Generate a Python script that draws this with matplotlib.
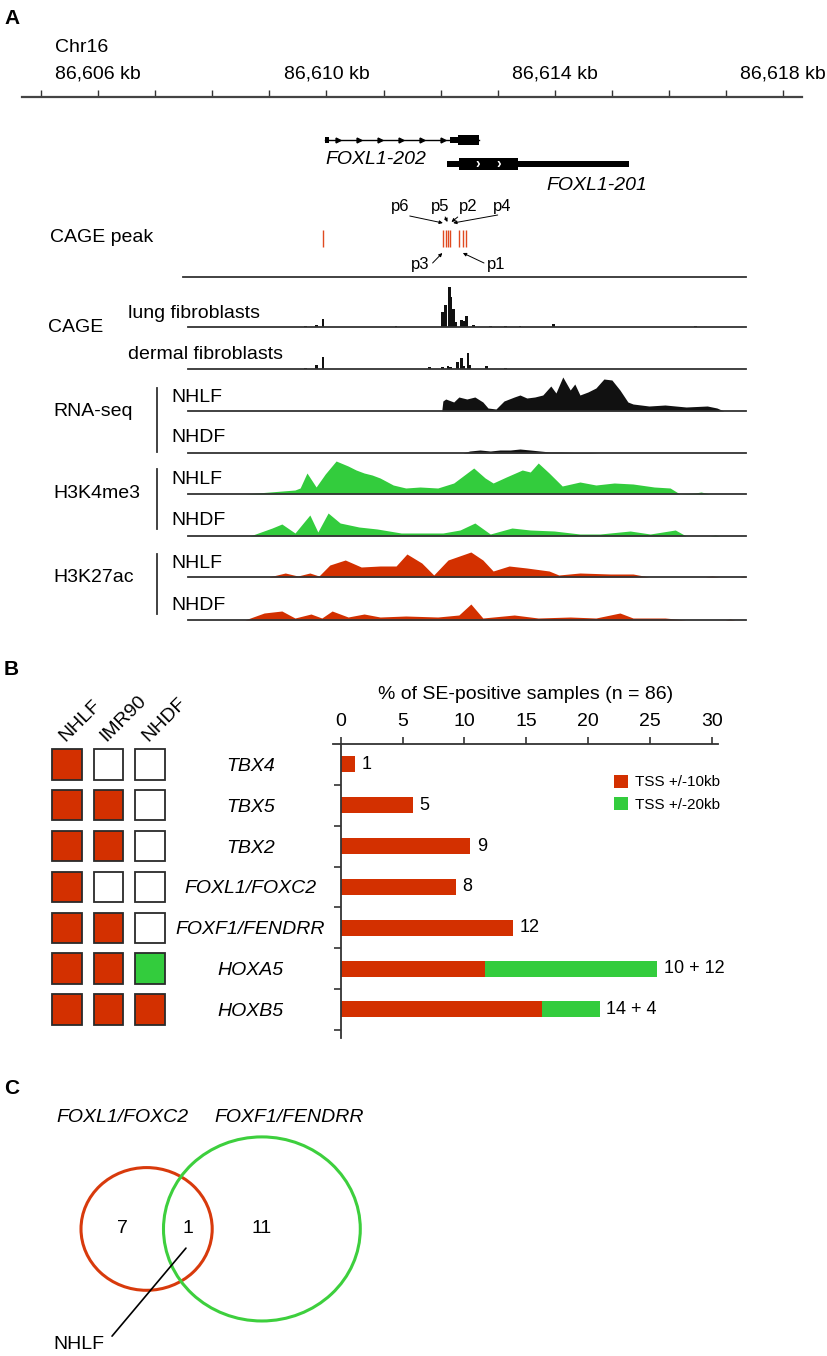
import numpy as np
import matplotlib.pyplot as plt
from matplotlib.patches import Rectangle, Circle
from matplotlib.lines import Line2D
from matplotlib.ticker import FuncFormatter, MultipleLocator

plt.rcParams['font.family'] = ['Liberation Sans', 'DejaVu Sans']

RED = '#d33000'
GREEN = '#33cc3d'
DARK = '#333333'

# ---------------- panel A : FOXL1 locus (kb on chr16) ----------------
chrom_label = 'Chr16'
ruler_major = [86606, 86610, 86614, 86618]

tx202_span = (86609.98, 86612.67)
tx202_first = (86609.98, 86610.05)
tx202_utr = (86612.16, 86612.30)
tx202_cds = (86612.30, 86612.67)
tx202_arrows = [86610.20, 86610.57, 86610.94, 86611.31, 86611.67, 86612.04]

tx201_span = (86612.11, 86615.30)
tx201_cds = (86612.32, 86613.36)
tx201_arrows = [86612.65, 86613.02]

cage_peaks = [86609.94, 86612.05, 86612.09, 86612.13, 86612.17, 86612.33, 86612.39, 86612.45]

cage_lung_pos = [86609.63, 86609.82, 86609.94, 86611.22, 86612.04, 86612.09, 86612.15, 86612.18,
                 86612.22, 86612.27, 86612.36, 86612.41, 86612.46, 86612.57, 86612.87, 86613.13,
                 86613.39, 86613.97, 86616.46]
cage_lung_val = [1, 2, 8, 1, 15, 22, 40, 30, 18, 5, 7, 6, 11, 2, 1, 1, 1, 3, 1]
cage_derm_pos = [86609.64, 86609.82, 86609.94, 86611.81, 86612.04, 86612.13, 86612.18, 86612.29,
                 86612.36, 86612.41, 86612.48, 86612.51, 86612.81, 86613.13]
cage_derm_val = [1, 4, 12, 2, 2, 3, 2, 7, 11, 3, 16, 4, 3, 1]

rna_nhlf_pos = [86612.02, 86612.04, 86612.09, 86612.23, 86612.32, 86612.46, 86612.60, 86612.74,
                86612.83, 86612.97, 86613.11, 86613.29, 86613.39, 86613.51, 86613.65, 86613.79,
                86613.93, 86614.02, 86614.14, 86614.27, 86614.35, 86614.44, 86614.58, 86614.72,
                86614.86, 86615.00, 86615.14, 86615.28, 86615.37, 86615.65, 86615.93, 86616.30,
                86616.67, 86616.84, 86616.96]
rna_nhlf_val = [0, 10, 12, 9, 14, 12, 14, 9, 3, 2, 10, 14, 16, 13, 14, 16, 25, 18, 34, 21,
                27, 16, 19, 23, 32, 31, 21, 9, 7, 5, 6, 4, 5, 3, 0]
rna_nhdf_pos = [86612.39, 86612.51, 86612.69, 86612.87, 86613.04, 86613.22, 86613.39, 86613.57,
                86613.74, 86613.92, 86614.09, 86614.35, 86614.62, 86614.79]
rna_nhdf_val = [0, 2, 3, 2, 3, 3, 4, 3, 2, 1, 1, 0.5, 0.5, 0]

h3k4_nhlf_pos = [86608.57, 86609.01, 86609.45, 86609.54, 86609.66, 86609.82, 86609.98, 86610.17,
                 86610.38, 86610.52, 86610.66, 86610.80, 86610.94, 86611.17, 86611.39, 86611.64,
                 86611.95, 86612.23, 86612.58, 86612.78, 86612.92, 86613.15, 86613.43, 86613.57,
                 86613.71, 86613.90, 86614.13, 86614.44, 86614.72, 86615.04, 86615.37, 86615.74,
                 86616.02, 86616.19, 86616.46, 86616.56, 86616.72]
h3k4_nhlf_val = [0, 2, 4, 6, 21, 7, 20, 33, 28, 24, 21, 19, 16, 9, 6, 7, 6, 11, 26, 16, 11,
                 17, 24, 22, 31, 21, 8, 12, 9, 11, 10, 7, 6, 0, 1, 2, 0]
h3k4_nhdf_pos = [86608.66, 86609.05, 86609.22, 86609.45, 86609.71, 86609.85, 86610.03, 86610.24,
                 86610.57, 86610.89, 86611.31, 86612.04, 86612.34, 86612.60, 86612.87, 86613.25,
                 86613.57, 86613.99, 86614.44, 86614.79, 86615.32, 86615.67, 86616.11, 86616.30,
                 86616.72, 86616.81, 86616.89]
h3k4_nhdf_val = [0, 8, 12, 3, 21, 4, 23, 13, 9, 7, 3, 3, 6, 13, 2, 8, 6, 5, 2, 2, 5, 2, 6, 0, 0, 1, 0]

h3k27_nhlf_pos = [86608.99, 86609.28, 86609.50, 86609.71, 86609.87, 86610.06, 86610.33, 86610.61,
                  86610.94, 86611.22, 86611.41, 86611.67, 86611.88, 86612.13, 86612.53, 86612.74,
                  86612.92, 86613.20, 86613.51, 86613.90, 86614.07, 86614.44, 86614.97, 86615.37,
                  86615.65, 86616.63, 86616.75, 86616.89, 86617.24, 86617.31, 86617.35]
h3k27_nhlf_val = [0, 4, 1, 4, 1, 12, 17, 10, 11, 11, 23, 14, 2, 17, 25, 17, 6, 11, 9, 6, 2,
                  4, 3, 3, 0, 0, 1, 0, 0, 1, 0]
h3k27_nhdf_pos = [86608.57, 86608.91, 86609.22, 86609.45, 86609.73, 86609.92, 86610.10, 86610.38,
                  86610.66, 86610.94, 86611.39, 86611.95, 86612.32, 86612.53, 86612.74, 86613.29,
                  86613.71, 86614.27, 86614.72, 86615.14, 86615.37, 86615.93, 86616.30, 86616.98,
                  86617.07, 86617.16]
h3k27_nhdf_val = [0, 7, 9, 2, 6, 2, 9, 3, 6, 3, 4, 3, 5, 16, 2, 5, 2, 3, 2, 7, 2, 2, 0, 0, 1, 0]

# ---------------- panel B ----------------
genes = ['TBX4', 'TBX5', 'TBX2', 'FOXL1/FOXC2', 'FOXF1/FENDRR', 'HOXA5', 'HOXB5']
cell_lines = ['NHLF', 'IMR90', 'NHDF']
# 1 = SE within TSS +/-10kb, 2 = within +/-20kb, 0 = none
se_status = [[1, 0, 0], [1, 1, 0], [1, 1, 0], [1, 0, 0], [1, 1, 0], [1, 1, 2], [1, 1, 1]]
se_10kb = [1, 5, 9, 8, 12, 10, 14]
se_20kb = [0, 0, 0, 0, 0, 12, 4]
n_samples = 86

# ---------------- panel C ----------------
venn_names = ['FOXL1/FOXC2', 'FOXF1/FENDRR']
only_foxl1, shared, only_foxf1 = 7, 1, 11
shared_line = 'NHLF'

W, H = 827, 1356
fig = plt.figure(figsize=(W / 100, H / 100), dpi=100)


def px_axes(x0, y0, x1, y1):
    ax = fig.add_axes([x0 / W, 1 - y1 / H, (x1 - x0) / W, (y1 - y0) / H])
    ax.patch.set_visible(False)
    return ax


def ftext(x, y, s, **kw):
    kw.setdefault('va', 'center')
    kw.setdefault('fontsize', 14)
    fig.text(x / W, 1 - y / H, s, **kw)


def vbar(x, y0, y1):
    fig.add_artist(Line2D([x / W, x / W], [1 - y0 / H, 1 - y1 / H], color=DARK, lw=1.3))


def baseline_only(ax):
    for s in ['top', 'left', 'right']:
        ax.spines[s].set_visible(False)
    ax.spines['bottom'].set_color(DARK)
    ax.spines['bottom'].set_linewidth(1.3)
    ax.set_xticks([])
    ax.set_yticks([])


ftext(4, 18, 'A', fontsize=15, fontweight='bold')
ftext(4, 669, 'B', fontsize=15, fontweight='bold')
ftext(4, 1088, 'C', fontsize=15, fontweight='bold')

# ruler
kb_to_px = 57.1
ruler_lim = (86606 + (22 - 98) / kb_to_px, 86606 + (802 - 98) / kb_to_px)
ax = px_axes(22, 96, 802, 97)
ax.set_xlim(*ruler_lim)
for s in ['top', 'left', 'right']:
    ax.spines[s].set_visible(False)
ax.spines['bottom'].set_color('#444444')
ax.spines['bottom'].set_linewidth(1.6)
ax.set_yticks([])
ax.set_xticks(ruler_major)
ax.xaxis.set_minor_locator(MultipleLocator(1))
ax.xaxis.set_major_formatter(FuncFormatter(lambda v, _: f'{v:,.0f} kb'))
ax.tick_params(axis='x', which='both', direction='in', length=5, width=1, color=DARK,
               top=False, bottom=True, labeltop=True, labelbottom=False, labelsize=14, pad=10)
ftext(55, 47, chrom_label)

# gene models
ax = px_axes(22, 128, 802, 176)
ax.set_xlim(*ruler_lim)
ax.set_ylim(1.5, -0.5)
ax.axis('off')
ax.plot(tx202_span, [0, 0], color='black', lw=1)
ax.add_patch(Rectangle((tx202_first[0], -0.14), tx202_first[1] - tx202_first[0], 0.28, color='black', lw=0))
ax.add_patch(Rectangle((tx202_utr[0], -0.13), tx202_utr[1] - tx202_utr[0], 0.26, color='black', lw=0))
ax.add_patch(Rectangle((tx202_cds[0], -0.22), tx202_cds[1] - tx202_cds[0], 0.44, color='black', lw=0))
ax.plot(tx202_arrows, [0] * len(tx202_arrows), ls='none', marker='>', ms=3.5, color='black')
ax.add_patch(Rectangle((tx201_span[0], 1 - 0.11), tx201_span[1] - tx201_span[0], 0.22, color='black', lw=0))
ax.add_patch(Rectangle((tx201_cds[0], 1 - 0.23), tx201_cds[1] - tx201_cds[0], 0.46, color='black', lw=0))
for p in tx201_arrows:
    ax.text(p, 1, '\u203a', color='white', fontsize=10, fontweight='bold', ha='center', va='center')
ax.text(tx202_span[0], 0.82, 'FOXL1-202', fontsize=14, style='italic', ha='left', va='center')
ax.text(86613.85, 1.88, 'FOXL1-201', fontsize=14, style='italic', ha='left', va='center', clip_on=False)

# CAGE peaks
ftext(50, 238, 'CAGE peak')
ax = px_axes(183, 195, 746, 277)
ax.set_xlim(86606 + (183 - 98) / kb_to_px, 86606 + (746 - 98) / kb_to_px)
ax.set_ylim(0, 82)
baseline_only(ax)
ax.vlines(cage_peaks, 30, 47, color='#e04a20', lw=1)
peak_labels = [('p6', 86611.30, 71, (86611.46, 61), (86612.04, 54)),
               ('p5', 86611.99, 71, (86612.08, 60), (86612.12, 55)),
               ('p2', 86612.49, 71, (86612.30, 60), (86612.19, 55)),
               ('p4', 86613.07, 71, (86613.00, 62), (86612.22, 54)),
               ('p3', 86611.64, 13, (86611.86, 14), (86612.03, 24)),
               ('p1', 86612.98, 13, (86612.76, 14), (86612.39, 24))]
for name, lx, ly, start, end in peak_labels:
    ax.text(lx, ly, name, fontsize=12, ha='center', va='center')
    ax.annotate('', xy=end, xytext=start,
                arrowprops=dict(arrowstyle='-|>', lw=0.7, color='black', mutation_scale=5,
                                shrinkA=0, shrinkB=0))

# signal tracks
track_lim = (86606 + (188 - 98) / kb_to_px, 86606 + (746 - 98) / kb_to_px)
tracks = [(327, cage_lung_pos, cage_lung_val, '#111111', True),
          (369, cage_derm_pos, cage_derm_val, '#111111', True),
          (411, rna_nhlf_pos, rna_nhlf_val, '#111111', False),
          (453, rna_nhdf_pos, rna_nhdf_val, '#111111', False),
          (494, h3k4_nhlf_pos, h3k4_nhlf_val, GREEN, False),
          (536, h3k4_nhdf_pos, h3k4_nhdf_val, GREEN, False),
          (577, h3k27_nhlf_pos, h3k27_nhlf_val, RED, False),
          (620, h3k27_nhdf_pos, h3k27_nhdf_val, RED, False)]
for base, pos, val, col, spiky in tracks:
    ax = px_axes(188, base - 45, 746, base)
    ax.set_xlim(*track_lim)
    ax.set_ylim(0, 45)
    baseline_only(ax)
    if spiky:
        ax.bar(pos, val, width=0.05, color=col, lw=0)
    else:
        ax.fill_between(pos, val, color=col, lw=0)

ftext(48, 327, 'CAGE')
ftext(128, 313, 'lung fibroblasts')
ftext(128, 354, 'dermal fibroblasts')
ftext(53, 411, 'RNA-seq')
ftext(53, 493, 'H3K4me3')
ftext(53, 577, 'H3K27ac')
for y in [397, 480, 563]:
    ftext(171, y, 'NHLF')
for y in [438, 520, 605]:
    ftext(171, y, 'NHDF')
vbar(157, 388, 452)
vbar(157, 469, 529)
vbar(157, 554, 614)

# ---------------- panel B ----------------
rows = np.arange(len(genes))
ax = px_axes(46.25, 744, 170.75, 1038)
ax.set_xlim(-0.5, 2.5)
ax.set_ylim(6.7, -0.5)
ax.axis('off')
fills = {0: 'white', 1: RED, 2: GREEN}
for r, status in enumerate(se_status):
    for c, s in enumerate(status):
        ax.add_patch(Rectangle((c - 0.36, r - 0.37), 0.72, 0.74, facecolor=fills[s],
                               edgecolor='#2a2a2a', lw=1.3))
for c, name in enumerate(cell_lines):
    ax.text(c - 0.05, -0.56, name, rotation=45, rotation_mode='anchor', ha='left', va='baseline',
            fontsize=14)

pct10 = np.array(se_10kb) / n_samples * 100
pct20 = np.array(se_20kb) / n_samples * 100
ax = px_axes(333, 744, 718, 1038)
ax.barh(rows, pct10, height=0.39, color=RED, label='TSS +/-10kb')
ax.barh(rows, pct20, left=pct10, height=0.39, color=GREEN, label='TSS +/-20kb')
ax.set_xlim(-0.62, 30.5)
ax.set_ylim(6.7, -0.5)
ax.spines['left'].set_position(('data', 0))
for s in ['bottom', 'right']:
    ax.spines[s].set_visible(False)
for s in ['top', 'left']:
    ax.spines[s].set_color(DARK)
    ax.spines[s].set_linewidth(1.3)
ax.xaxis.tick_top()
ax.set_xticks(range(0, 31, 5))
ax.tick_params(axis='x', direction='out', length=5, width=1.2, color=DARK, labelsize=14, pad=5)
ax.xaxis.set_label_position('top')
ax.set_xlabel('% of SE-positive samples (n = 86)', fontsize=14, labelpad=10)
ax.set_yticks(rows)
ax.set_yticklabels(genes, fontsize=14, style='italic', ha='center')
ax.set_yticks(list(rows + 0.5), minor=True)
ax.tick_params(axis='y', which='major', length=0, pad=65)
ax.tick_params(axis='y', which='minor', length=5, width=1.2, color=DARK)
for i in rows:
    txt = f'{se_10kb[i]}' if se_20kb[i] == 0 else f'{se_10kb[i]} + {se_20kb[i]}'
    ax.text(pct10[i] + pct20[i] + 0.55, i, txt, va='center', fontsize=13)
ax.legend(loc='upper left', bbox_to_anchor=(0.73, 0.895), frameon=False, fontsize=11,
          handlelength=0.9, handleheight=0.9, handletextpad=0.5, labelspacing=0.5,
          borderpad=0, borderaxespad=0)

# ---------------- panel C ----------------
ax = px_axes(40, 1130, 400, 1330)
ax.set_xlim(0, 360 / 8.2)
ax.set_ylim(200 / 7.67, 0)
ax.axis('off')
r1 = only_foxl1 + shared
r2 = only_foxf1 + shared
cx1, cy = 13.0, 12.9
cx2 = cx1 + 14.06
ax.add_patch(Circle((cx1, cy), r1, fill=False, edgecolor='#d83a0c', lw=2.2))
ax.add_patch(Circle((cx2, cy), r2, fill=False, edgecolor='#3dcf3d', lw=2.2))
ax.text(((cx1 - r1) + (cx2 - r2)) / 2, cy, str(only_foxl1), fontsize=14, ha='center', va='center')
ax.text(((cx2 - r2) + (cx1 + r1)) / 2, cy, str(shared), fontsize=14, ha='center', va='center')
ax.text(cx2, cy, str(only_foxf1), fontsize=14, ha='center', va='center')
ax.annotate(shared_line, xy=(17.8, 15.4), xytext=(7.9, 28.0), fontsize=14, ha='right', va='center',
            annotation_clip=False,
            arrowprops=dict(arrowstyle='-', lw=1.2, color='black', relpos=(1, 0.5), shrinkA=5, shrinkB=0))
ftext(122, 1118, venn_names[0], fontsize=14, style='italic', ha='center')
ftext(289, 1118, venn_names[1], fontsize=14, style='italic', ha='center')

fig.savefig('out.png', dpi=100)
